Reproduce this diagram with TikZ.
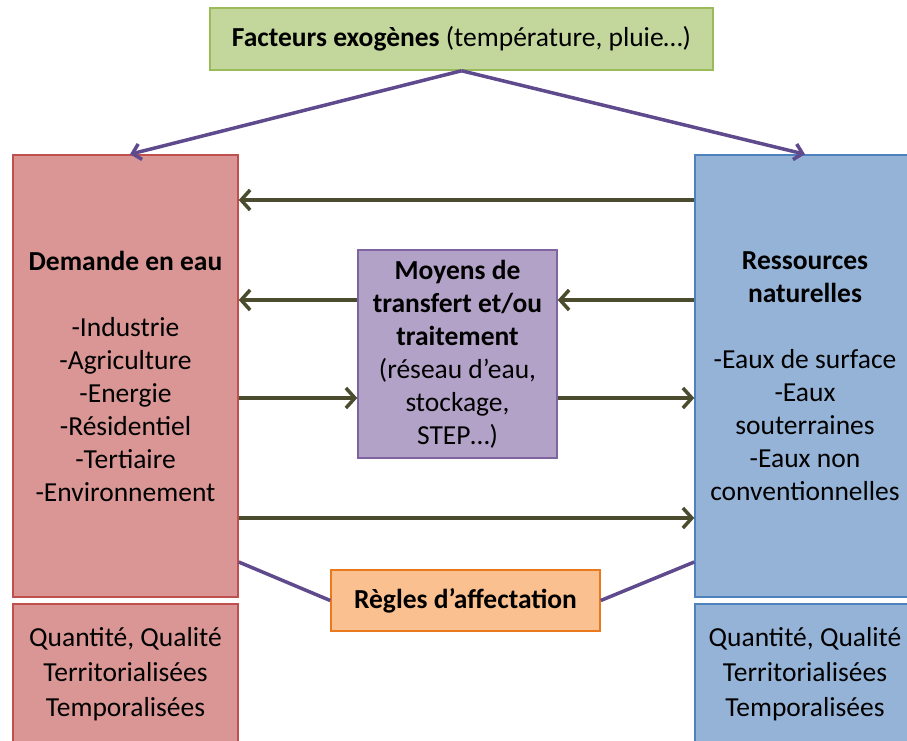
\documentclass[tikz,border=0pt]{standalone}
\usepackage{fontspec}
\setmainfont{Carlito}
\usetikzlibrary{arrows.meta}
\definecolor{gfill}{HTML}{C3D69B}
\definecolor{gdraw}{HTML}{9BBB59}
\definecolor{rfill}{HTML}{D99694}
\definecolor{rdraw}{HTML}{C0504D}
\definecolor{bfill}{HTML}{95B3D7}
\definecolor{bdraw}{HTML}{4F81BD}
\definecolor{pfill}{HTML}{B3A2C7}
\definecolor{pdraw}{HTML}{8064A2}
\definecolor{ofill}{HTML}{FAC090}
\definecolor{odraw}{HTML}{E8791E}
\definecolor{arrcol}{HTML}{4B4B2E}
\definecolor{linecol}{HTML}{5E4A8C}
\tikzset{
  box/.style={draw, line width=1.5pt, inner sep=0pt, align=center, text=black,
    font=\fontsize{27.5}{33}\selectfont},
  arr/.style={draw=arrcol, line width=3.5pt, -{Straight Barb[length=9pt,width=20pt]}},
  parr/.style={draw=linecol, line width=3.5pt, -{Straight Barb[length=8pt,width=16pt]}},
  pline/.style={draw=linecol, line width=3.5pt},
}
\begin{document}
\begin{tikzpicture}[x=1pt,y=-1pt]
\useasboundingbox (0,0) rectangle (907,740);
\clip (0,0) rectangle (907,740);
\node[box, fill=gfill, draw=gdraw, minimum width=503pt, minimum height=62pt] (T) at (461.5,39)
  {\textbf{Facteurs exogènes} (température, pluie…)};
\node[box, fill=rfill, draw=rdraw, minimum width=225pt, minimum height=442pt] (L) at (125.5,376)
  {\textbf{Demande en eau}\\[33pt]-Industrie\\-Agriculture\\-Energie\\-Résidentiel\\-Tertiaire\\-Environnement};
\node[box, fill=bfill, draw=bdraw, minimum width=220pt, minimum height=442pt] (R) at (805,376)
  {\textbf{Ressources}\\\textbf{naturelles}\\[33pt]-Eaux de surface\\-Eaux\\souterraines\\-Eaux non\\conventionnelles};
\node[box, fill=rfill, draw=rdraw, minimum width=225pt, minimum height=141pt,
  font=\fontsize{27.5}{35}\selectfont] (LB) at (125.5,674.5)
  {Quantité, Qualité\\Territorialisées\\Temporalisées};
\node[box, fill=bfill, draw=bdraw, minimum width=220pt, minimum height=141pt,
  font=\fontsize{27.5}{35}\selectfont] (RB) at (805,674.5)
  {Quantité, Qualité\\Territorialisées\\Temporalisées};
\node[box, fill=pfill, draw=pdraw, minimum width=199pt, minimum height=208pt] (M) at (457.5,354)
  {\textbf{Moyens de}\\\textbf{transfert et/ou}\\\textbf{traitement}\\(réseau d’eau,\\stockage,\\STEP…)};
\node[box, fill=ofill, draw=odraw, minimum width=269pt, minimum height=61pt] (O) at (465.5,600.5)
  {\textbf{Règles d’affectation}};
% exogenous factors
\draw[parr] (T.south) -- (130,0 |- L.north);
\draw[parr] (T.south) -- (R.north);
% flows
\draw[arr] (R.west |- 0,200) -- (L.east |- 0,200);
\draw[arr] (M.west |- 0,300) -- (L.east |- 0,300);
\draw[arr] (R.west |- 0,300) -- (M.east |- 0,300);
\draw[arr] (L.east |- 0,398) -- (M.west |- 0,398);
\draw[arr] (M.east |- 0,398) -- (R.west |- 0,398);
\draw[arr] (L.east |- 0,518) -- (R.west |- 0,518);
% allocation rules
\draw[pline] (L.east |- 0,562) -- (O.west);
\draw[pline] (O.east) -- (R.west |- 0,562);
\end{tikzpicture}
\end{document}
